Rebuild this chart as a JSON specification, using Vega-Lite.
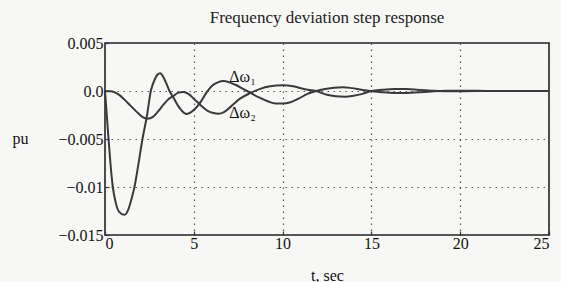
{
  "$schema": "https://vega.github.io/schema/vega-lite/v6.json",
  "width": 444,
  "height": 192,
  "autosize": {"type": "none"},
  "padding": {"left": 105, "top": 43, "right": 12, "bottom": 47},
  "background": "#f7f7f5",
  "title": {
    "text": "Frequency deviation step response",
    "font": "Liberation Serif",
    "fontSize": 17,
    "fontWeight": "normal",
    "color": "#222",
    "anchor": "middle",
    "offset": 8
  },
  "config": {
    "font": "Liberation Serif",
    "view": {"stroke": "#222", "strokeWidth": 1.6},
    "axis": {"labelFont": "Liberation Serif", "titleFont": "Liberation Serif"}
  },
  "datasets": {
    "curves": [
      {"series": "dw1", "t": 0, "v": 0},
      {"series": "dw1", "t": 0.05, "v": -0.0012},
      {"series": "dw1", "t": 0.1, "v": -0.0025},
      {"series": "dw1", "t": 0.2, "v": -0.005},
      {"series": "dw1", "t": 0.3, "v": -0.0074},
      {"series": "dw1", "t": 0.44, "v": -0.01},
      {"series": "dw1", "t": 0.6, "v": -0.0116},
      {"series": "dw1", "t": 0.8, "v": -0.0126},
      {"series": "dw1", "t": 1.08, "v": -0.0129},
      {"series": "dw1", "t": 1.3, "v": -0.0124},
      {"series": "dw1", "t": 1.5, "v": -0.0112},
      {"series": "dw1", "t": 1.66, "v": -0.01},
      {"series": "dw1", "t": 1.9, "v": -0.0074},
      {"series": "dw1", "t": 2.1, "v": -0.0051},
      {"series": "dw1", "t": 2.36, "v": -0.0026},
      {"series": "dw1", "t": 2.58, "v": 0},
      {"series": "dw1", "t": 2.8, "v": 0.0012},
      {"series": "dw1", "t": 2.95, "v": 0.0017},
      {"series": "dw1", "t": 3.11, "v": 0.00185},
      {"series": "dw1", "t": 3.3, "v": 0.0014},
      {"series": "dw1", "t": 3.45, "v": 0.0008},
      {"series": "dw1", "t": 3.63, "v": 0},
      {"series": "dw1", "t": 3.86, "v": -0.0007},
      {"series": "dw1", "t": 4.1, "v": -0.0015},
      {"series": "dw1", "t": 4.35, "v": -0.0021},
      {"series": "dw1", "t": 4.6, "v": -0.0024},
      {"series": "dw1", "t": 4.85, "v": -0.0022},
      {"series": "dw1", "t": 5.1, "v": -0.0018},
      {"series": "dw1", "t": 5.4, "v": -0.0011},
      {"series": "dw1", "t": 5.7, "v": -0.0002},
      {"series": "dw1", "t": 6.0, "v": 0.0005},
      {"series": "dw1", "t": 6.35, "v": 0.0009},
      {"series": "dw1", "t": 6.68, "v": 0.00104},
      {"series": "dw1", "t": 7.0, "v": 0.0009},
      {"series": "dw1", "t": 7.4, "v": 0.0006},
      {"series": "dw1", "t": 7.8, "v": 0.0002},
      {"series": "dw1", "t": 8.2, "v": -0.0002},
      {"series": "dw1", "t": 8.7, "v": -0.0007},
      {"series": "dw1", "t": 9.2, "v": -0.0011},
      {"series": "dw1", "t": 9.6, "v": -0.0013},
      {"series": "dw1", "t": 10.0, "v": -0.0013},
      {"series": "dw1", "t": 10.4, "v": -0.0012},
      {"series": "dw1", "t": 10.9, "v": -0.0008},
      {"series": "dw1", "t": 11.4, "v": -0.0003},
      {"series": "dw1", "t": 11.9, "v": 0},
      {"series": "dw1", "t": 12.4, "v": 0.0002},
      {"series": "dw1", "t": 12.9, "v": 0.00035},
      {"series": "dw1", "t": 13.4, "v": 0.0004},
      {"series": "dw1", "t": 13.9, "v": 0.0003},
      {"series": "dw1", "t": 14.5, "v": 0.0001},
      {"series": "dw1", "t": 15.0, "v": 0},
      {"series": "dw1", "t": 15.6, "v": -0.00012},
      {"series": "dw1", "t": 16.3, "v": -0.0002},
      {"series": "dw1", "t": 17.0, "v": -0.0002},
      {"series": "dw1", "t": 17.7, "v": -0.00012},
      {"series": "dw1", "t": 18.4, "v": -0.00004},
      {"series": "dw1", "t": 19.2, "v": 0.00002},
      {"series": "dw1", "t": 20.2, "v": 0.00003},
      {"series": "dw1", "t": 21.5, "v": 0.00001},
      {"series": "dw1", "t": 23, "v": 0},
      {"series": "dw1", "t": 25, "v": 0},
      {"series": "dw2", "t": 0, "v": 0},
      {"series": "dw2", "t": 0.3, "v": -0.00003},
      {"series": "dw2", "t": 0.5, "v": -0.0001},
      {"series": "dw2", "t": 0.8, "v": -0.0004},
      {"series": "dw2", "t": 1.1, "v": -0.0009},
      {"series": "dw2", "t": 1.42, "v": -0.0015},
      {"series": "dw2", "t": 1.8, "v": -0.0022},
      {"series": "dw2", "t": 2.1, "v": -0.0027},
      {"series": "dw2", "t": 2.4, "v": -0.0029},
      {"series": "dw2", "t": 2.7, "v": -0.0027},
      {"series": "dw2", "t": 3.0, "v": -0.0021},
      {"series": "dw2", "t": 3.3, "v": -0.0014},
      {"series": "dw2", "t": 3.6, "v": -0.0008},
      {"series": "dw2", "t": 3.86, "v": -0.0005},
      {"series": "dw2", "t": 4.1, "v": -0.0002},
      {"series": "dw2", "t": 4.42, "v": -0.0001},
      {"series": "dw2", "t": 4.7, "v": -0.0003},
      {"series": "dw2", "t": 5.0, "v": -0.0008},
      {"series": "dw2", "t": 5.4, "v": -0.0015},
      {"series": "dw2", "t": 5.8, "v": -0.0021},
      {"series": "dw2", "t": 6.1, "v": -0.0023},
      {"series": "dw2", "t": 6.4, "v": -0.00237},
      {"series": "dw2", "t": 6.7, "v": -0.0022},
      {"series": "dw2", "t": 7.1, "v": -0.0016},
      {"series": "dw2", "t": 7.6, "v": -0.0008},
      {"series": "dw2", "t": 8.2, "v": -0.0002},
      {"series": "dw2", "t": 8.7, "v": 0.0002},
      {"series": "dw2", "t": 9.3, "v": 0.0005},
      {"series": "dw2", "t": 10.0, "v": 0.0006},
      {"series": "dw2", "t": 10.6, "v": 0.0005},
      {"series": "dw2", "t": 11.2, "v": 0.0002},
      {"series": "dw2", "t": 11.9, "v": 0},
      {"series": "dw2", "t": 12.5, "v": -0.0004},
      {"series": "dw2", "t": 13.0, "v": -0.00055},
      {"series": "dw2", "t": 13.5, "v": -0.0006},
      {"series": "dw2", "t": 14.0, "v": -0.0005},
      {"series": "dw2", "t": 14.5, "v": -0.0003},
      {"series": "dw2", "t": 15.0, "v": 0},
      {"series": "dw2", "t": 15.6, "v": 0.00012},
      {"series": "dw2", "t": 16.3, "v": 0.0002},
      {"series": "dw2", "t": 17.0, "v": 0.0002},
      {"series": "dw2", "t": 17.7, "v": 0.0001},
      {"series": "dw2", "t": 18.4, "v": 0.00003},
      {"series": "dw2", "t": 19.2, "v": -0.00002},
      {"series": "dw2", "t": 20.2, "v": -0.00002},
      {"series": "dw2", "t": 21.5, "v": 0},
      {"series": "dw2", "t": 25, "v": 0}
    ],
    "labels": [
      {"t": 7.0, "v": 0.00146, "label": "Δω₁"},
      {"t": 7.0, "v": -0.0023, "label": "Δω₂"}
    ]
  },
  "layer": [
    {
      "data": {"name": "curves"},
      "mark": {"type": "line", "interpolate": "monotone", "color": "#3a3a3a", "strokeWidth": 2},
      "encoding": {
        "x": {
          "field": "t", "type": "quantitative",
          "scale": {"domain": [0, 25], "nice": false, "zero": false},
          "axis": {
            "values": [0, 5, 10, 15, 20, 25],
            "labelFont": "Liberation Serif",
            "labelFontSize": 16,
            "labelColor": "#111",
            "labelPadding": 4,
            "domain": false,
            "grid": true,
            "gridColor": "#555",
            "gridDash": [1.5, 4.5],
            "gridWidth": 1.2,
            "tickColor": "#333",
            "tickSize": -4,
            "tickWidth": 1.2,
            "title": "t, sec",
            "titleFont": "Liberation Serif",
            "titleFontSize": 16,
            "titleFontWeight": "normal",
            "titleColor": "#111",
            "titleY": 40,
            "titleBaseline": "middle"
          }
        },
        "y": {
          "field": "v", "type": "quantitative",
          "scale": {"domain": [-0.015, 0.005], "nice": false, "zero": false},
          "axis": {
            "values": [-0.015, -0.01, -0.005, 0, 0.005],
            "labelExpr": "datum.value == 0 ? '0.0' : format(datum.value, '~g')",
            "labelFont": "Liberation Serif",
            "labelFontSize": 16,
            "labelColor": "#111",
            "labelPadding": 6,
            "domain": false,
            "grid": true,
            "gridColor": "#555",
            "gridDash": [1.5, 4.5],
            "gridWidth": 1.2,
            "tickColor": "#333",
            "tickSize": -4,
            "tickWidth": 1.2,
            "title": "pu",
            "titleFont": "Liberation Serif",
            "titleFontSize": 16,
            "titleFontWeight": "normal",
            "titleColor": "#111",
            "titleAngle": 0,
            "titleX": -85,
            "titleY": 95,
            "titleAlign": "center",
            "titleBaseline": "middle"
          }
        },
        "detail": {"field": "series"}
      }
    },
    {
      "data": {"name": "labels"},
      "mark": {"type": "text", "font": "Liberation Serif", "fontSize": 16, "color": "#111", "align": "left", "baseline": "middle"},
      "encoding": {
        "x": {"field": "t", "type": "quantitative"},
        "y": {"field": "v", "type": "quantitative"},
        "text": {"field": "label"}
      }
    }
  ]
}
